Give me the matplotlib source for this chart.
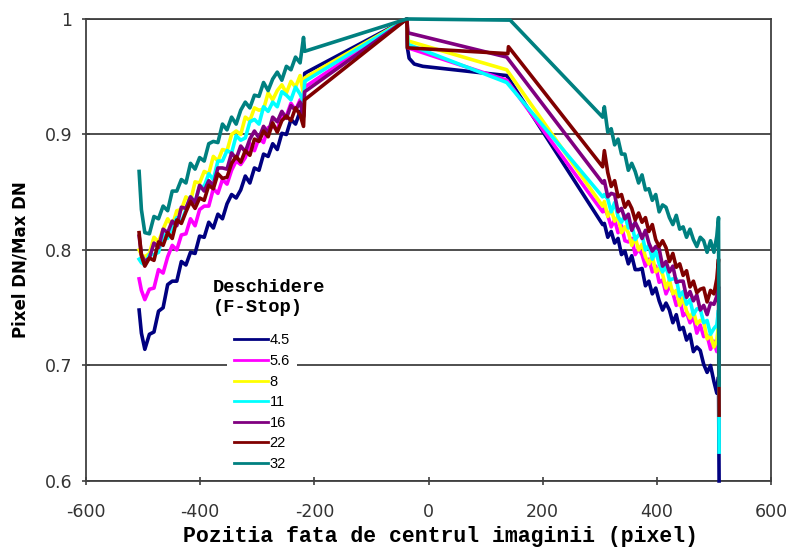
import numpy as np
import matplotlib
matplotlib.use("Agg")
import matplotlib.pyplot as plt

plt.rcParams['axes.unicode_minus'] = False

# pixel columns sampled on the left and right of the sensor
left_x = [-507, -503, -497, -489, -481, -473, -465, -457, -449, -441, -433, -425, -417,
          -409, -401, -393, -385, -377, -369, -361, -353, -345, -337, -329, -321, -313,
          -305, -297, -289, -281, -273, -265, -257, -249, -241, -233, -225, -219, -217]
right_x = [305, 308, 314, 320, 326, 332, 338, 344, 350, 356, 362, 368, 374, 380, 386,
           392, 398, 404, 410, 416, 422, 428, 434, 440, 446, 452, 458, 464, 470, 476,
           482, 488, 494, 500, 505, 508, 509]

fstops = ['4.5', '5.6', '8', '11', '16', '22', '32']
colors = ['#000080', '#FF00FF', '#FFFF00', '#00FFFF', '#800080', '#800000', '#008080']

# f/4.5
left_45 = [0.748, 0.728, 0.714, 0.727, 0.729, 0.747, 0.750, 0.770, 0.773, 0.773, 0.790, 0.787, 0.798,
           0.797, 0.812, 0.811, 0.824, 0.819, 0.831, 0.827, 0.840, 0.848, 0.845, 0.852, 0.864, 0.858,
           0.871, 0.869, 0.883, 0.881, 0.892, 0.887, 0.901, 0.900, 0.913, 0.909, 0.920, 0.916, 0.953]
mid_x_45 = [-38, -37, -34, -25, -10, 137]
mid_45 = [1.0, 0.975, 0.966, 0.961, 0.959, 0.951]
right_45 = [0.822, 0.823, 0.811, 0.816, 0.806, 0.810, 0.796, 0.799, 0.788, 0.795, 0.783, 0.783, 0.784,
            0.769, 0.773, 0.762, 0.767, 0.756, 0.748, 0.754, 0.748, 0.737, 0.744, 0.731, 0.733, 0.722,
            0.727, 0.712, 0.716, 0.713, 0.701, 0.694, 0.700, 0.686, 0.676, 0.690, 0.600]

# f/5.6
left_56 = [0.775, 0.765, 0.757, 0.766, 0.767, 0.783, 0.780, 0.794, 0.804, 0.800, 0.813, 0.814, 0.827,
           0.821, 0.835, 0.838, 0.838, 0.853, 0.849, 0.861, 0.857, 0.869, 0.877, 0.874, 0.880, 0.892,
           0.886, 0.897, 0.893, 0.906, 0.907, 0.904, 0.917, 0.916, 0.927, 0.921, 0.930, 0.930, 0.941]
mid_x_56 = [-38, -36, 137]
mid_56 = [1.0, 0.975, 0.947]
right_56 = [0.833, 0.836, 0.830, 0.820, 0.826, 0.815, 0.821, 0.808, 0.807, 0.810, 0.796, 0.801, 0.796,
            0.786, 0.792, 0.781, 0.786, 0.772, 0.774, 0.762, 0.769, 0.763, 0.752, 0.758, 0.743, 0.746,
            0.737, 0.742, 0.728, 0.735, 0.725, 0.726, 0.714, 0.721, 0.712, 0.726, 0.700]

# f/8
left_8 = [0.800, 0.796, 0.794, 0.797, 0.811, 0.807, 0.818, 0.827, 0.821, 0.834, 0.835, 0.846, 0.842,
          0.859, 0.858, 0.868, 0.866, 0.881, 0.877, 0.887, 0.886, 0.900, 0.903, 0.900, 0.915, 0.912,
          0.923, 0.921, 0.922, 0.936, 0.930, 0.938, 0.943, 0.936, 0.946, 0.941, 0.951, 0.935, 0.949]
mid_x_8 = [-38, -36, 137]
mid_8 = [1.0, 0.981, 0.956]
right_8 = [0.838, 0.842, 0.829, 0.835, 0.825, 0.829, 0.815, 0.820, 0.815, 0.804, 0.811, 0.800, 0.805,
           0.794, 0.788, 0.795, 0.781, 0.784, 0.779, 0.767, 0.774, 0.762, 0.765, 0.752, 0.759, 0.747,
           0.741, 0.747, 0.736, 0.739, 0.738, 0.723, 0.726, 0.716, 0.722, 0.735, 0.700]

# f/11
left_11 = [0.792, 0.789, 0.787, 0.796, 0.796, 0.798, 0.814, 0.810, 0.820, 0.828, 0.824, 0.835, 0.846,
           0.841, 0.855, 0.855, 0.866, 0.861, 0.877, 0.877, 0.886, 0.884, 0.899, 0.895, 0.897, 0.911,
           0.913, 0.909, 0.924, 0.920, 0.928, 0.924, 0.937, 0.934, 0.930, 0.941, 0.935, 0.928, 0.946]
mid_x_11 = [-38, -36, 137]
mid_11 = [1.0, 0.978, 0.945]
right_11 = [0.846, 0.848, 0.844, 0.833, 0.841, 0.829, 0.824, 0.830, 0.819, 0.822, 0.809, 0.813, 0.813,
            0.800, 0.804, 0.792, 0.799, 0.788, 0.781, 0.786, 0.774, 0.775, 0.775, 0.760, 0.764, 0.753,
            0.757, 0.744, 0.749, 0.749, 0.737, 0.739, 0.727, 0.732, 0.735, 0.748, 0.625]

# f/16
left_16 = [0.812, 0.796, 0.790, 0.793, 0.806, 0.802, 0.818, 0.815, 0.825, 0.821, 0.837, 0.836, 0.846,
           0.841, 0.856, 0.851, 0.860, 0.856, 0.871, 0.871, 0.870, 0.884, 0.879, 0.890, 0.885, 0.896,
           0.903, 0.897, 0.907, 0.901, 0.915, 0.911, 0.920, 0.914, 0.925, 0.921, 0.928, 0.915, 0.937]
mid_x_16 = [-38, -36, 137]
mid_16 = [1.0, 0.988, 0.967]
right_16 = [0.858, 0.860, 0.846, 0.849, 0.848, 0.833, 0.836, 0.827, 0.831, 0.817, 0.824, 0.818, 0.810,
            0.817, 0.806, 0.799, 0.803, 0.801, 0.786, 0.790, 0.781, 0.786, 0.772, 0.773, 0.773, 0.759,
            0.764, 0.756, 0.761, 0.748, 0.752, 0.744, 0.754, 0.753, 0.760, 0.768, 0.700]

# f/22
left_22 = [0.815, 0.795, 0.786, 0.793, 0.791, 0.807, 0.804, 0.815, 0.810, 0.826, 0.823, 0.833, 0.842,
           0.836, 0.845, 0.843, 0.856, 0.853, 0.866, 0.862, 0.863, 0.875, 0.881, 0.876, 0.886, 0.882,
           0.896, 0.894, 0.903, 0.898, 0.910, 0.902, 0.912, 0.916, 0.912, 0.923, 0.917, 0.907, 0.930]
mid_x_22 = [-38, -37, 139, 140]
mid_22 = [1.0, 0.975, 0.970, 0.976]
right_22 = [0.872, 0.886, 0.867, 0.855, 0.860, 0.846, 0.848, 0.837, 0.842, 0.836, 0.826, 0.832, 0.824,
            0.828, 0.816, 0.822, 0.809, 0.803, 0.808, 0.802, 0.790, 0.797, 0.785, 0.788, 0.778, 0.782,
            0.768, 0.773, 0.763, 0.766, 0.767, 0.755, 0.765, 0.762, 0.775, 0.792, 0.657]

# f/32
left_32 = [0.868, 0.835, 0.815, 0.814, 0.829, 0.827, 0.838, 0.834, 0.851, 0.851, 0.861, 0.858, 0.875,
           0.870, 0.880, 0.877, 0.892, 0.894, 0.893, 0.909, 0.904, 0.915, 0.909, 0.921, 0.928, 0.923,
           0.934, 0.933, 0.945, 0.938, 0.948, 0.954, 0.947, 0.959, 0.956, 0.967, 0.962, 0.984, 0.972]
mid_x_32 = [-38, 143]
mid_32 = [1.0, 0.999]
right_32 = [0.915, 0.924, 0.902, 0.905, 0.891, 0.896, 0.883, 0.883, 0.869, 0.875, 0.868, 0.858, 0.865,
            0.852, 0.853, 0.843, 0.848, 0.833, 0.839, 0.837, 0.828, 0.822, 0.830, 0.818, 0.820, 0.811,
            0.818, 0.809, 0.803, 0.811, 0.808, 0.798, 0.808, 0.798, 0.812, 0.828, 0.683]

series = [
    (left_45, mid_x_45, mid_45, right_45),
    (left_56, mid_x_56, mid_56, right_56),
    (left_8, mid_x_8, mid_8, right_8),
    (left_11, mid_x_11, mid_11, right_11),
    (left_16, mid_x_16, mid_16, right_16),
    (left_22, mid_x_22, mid_22, right_22),
    (left_32, mid_x_32, mid_32, right_32),
]

fig = plt.figure(figsize=(7.9, 5.5), dpi=100)
ax = fig.add_axes([0.1089, 0.1255, 0.8671, 0.84])

for (ly, mx, my, ry), lab, c in zip(series, fstops, colors):
    x = left_x + mx + right_x
    y = ly + my + ry
    ax.plot(x, y, color=c, lw=2.6, label=lab, clip_on=False, zorder=3)

ax.set_xlim(-600, 600)
ax.set_ylim(0.6, 1.0)
ax.set_xticks([-600, -400, -200, 0, 200, 400, 600])
ax.set_xticklabels(['-600', '-400', '-200', '0', '200', '400', '600'])
ax.set_yticks([0.6, 0.7, 0.8, 0.9, 1.0])
ax.set_yticklabels(['0.6', '0.7', '0.8', '0.9', '1'])

ax.yaxis.grid(True, color='#404040', lw=1.3)
ax.set_axisbelow(True)
for s in ax.spines.values():
    s.set_color('#404040')
    s.set_linewidth(1.3)

ax.tick_params(axis='both', direction='inout', length=6, width=1.2, color='#404040',
               labelsize=12.5, labelcolor='#333333')
ax.tick_params(axis='x', pad=13)
ax.tick_params(axis='y', pad=7)

ax.set_xlabel('Pozitia fata de centrul imaginii (pixel)', family='Liberation Mono',
              weight='bold', fontsize=15.5)
ax.xaxis.set_label_coords(0.517, -0.098)
ax.set_ylabel('Pixel DN/Max DN', family='DejaVu Sans', weight='bold', fontsize=12)
ax.yaxis.set_label_coords(-0.083, 0.48)

ax.text(0.185, 0.437, 'Deschidere\n(F-Stop)', transform=ax.transAxes, family='Liberation Mono',
        weight='bold', fontsize=13.5, va='top', ha='left', linespacing=1.2)

leg = ax.legend(loc='upper left', bbox_to_anchor=(0.206, 0.335), borderaxespad=0,
                frameon=True, fancybox=False, framealpha=1, edgecolor='none',
                prop={'family': 'Liberation Sans', 'size': 10.5}, handlelength=2.3,
                handletextpad=0.1, labelspacing=0.45, borderpad=0.5)
for h in leg.get_lines():
    h.set_linewidth(2)

fig.savefig('out.png', dpi=100, facecolor='white')
